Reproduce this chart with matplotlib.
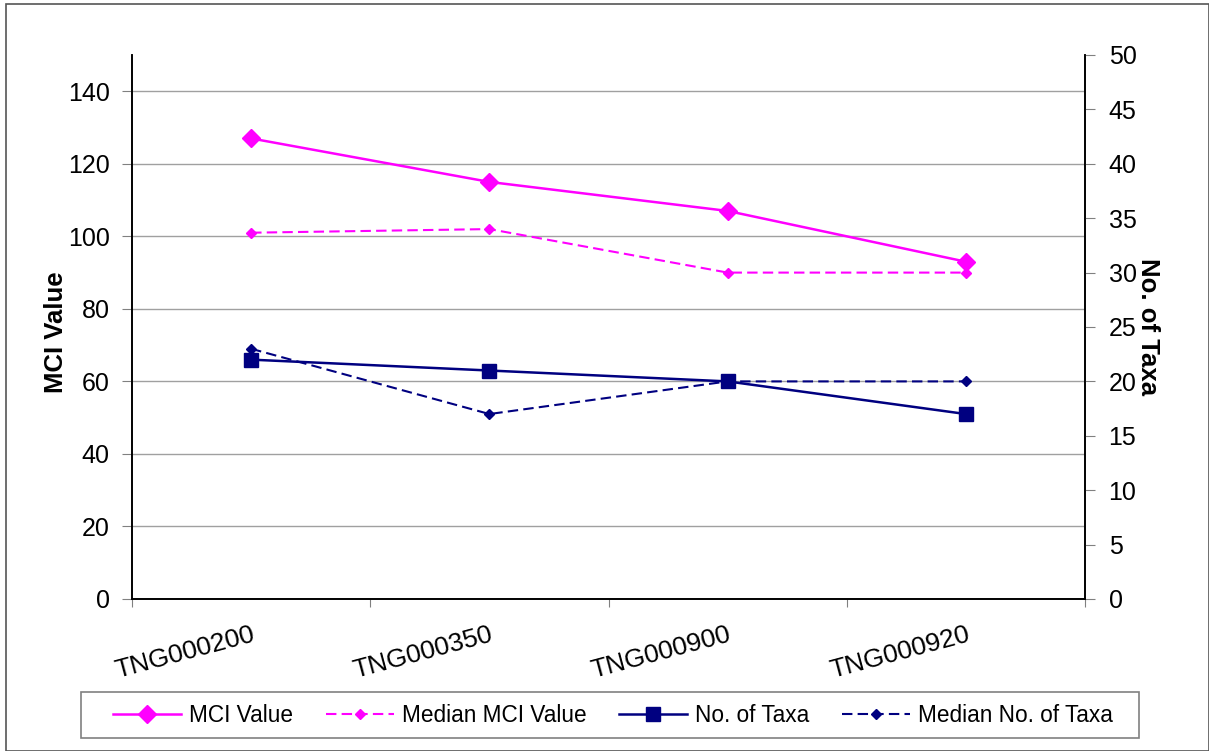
import matplotlib.pyplot as plt
from matplotlib.patches import Rectangle

plt.rcParams['font.family'] = ['Liberation Sans', 'DejaVu Sans']

sites = ["TNG000200", "TNG000350", "TNG000900", "TNG000920"]
mci_value = [127, 115, 107, 93]
median_mci = [101, 102, 90, 90]
no_taxa = [22, 21, 20, 17]
median_taxa = [23, 17, 20, 20]

W, H = 1209, 751
fig = plt.figure(figsize=(W / 100, H / 100), dpi=100)

# outer chart frame
fig.patches.append(Rectangle((6 / W, 0), (W - 6) / W, (H - 4) / H, transform=fig.transFigure,
                             fill=False, edgecolor="#555555", linewidth=1.2))
# legend box
fig.patches.append(Rectangle((81 / W, 1 - 738 / H), (1139 - 81) / W, 46 / H,
                             transform=fig.transFigure, fill=False,
                             edgecolor="#808080", linewidth=1.2))

ax = fig.add_axes([132 / W, (H - 599) / H, (1085 - 132) / W, (599 - 55) / H])
ax2 = ax.twinx()

x = [i + 0.5 for i in range(len(sites))]
magenta = "#ff00ff"
navy = "#000080"
dash = (0, (5, 2.5))

l1, = ax.plot(x, mci_value, color=magenta, lw=1.8, marker="D", ms=9, label="MCI Value")
l2, = ax.plot(x, median_mci, color=magenta, lw=1.5, ls=dash, marker="D", ms=5.5,
              label="Median MCI Value")
l3, = ax2.plot(x, no_taxa, color=navy, lw=1.8, marker="s", ms=10, label="No. of Taxa")
l4, = ax2.plot(x, median_taxa, color=navy, lw=1.5, ls=dash, marker="D", ms=5.5,
               label="Median No. of Taxa")

ax.set_xlim(0, len(sites))
ax.set_ylim(0, 150)
ax2.set_ylim(0, 50)
ax.set_yticks(range(0, 141, 20))
ax2.set_yticks(range(0, 51, 5))
ax.yaxis.grid(True, color="#a0a0a0", lw=1)
ax.set_axisbelow(True)

ax.set_xticks(range(len(sites) + 1))
ax.set_xticklabels([])
ax.set_xticks(x, minor=True)
ax.set_xticklabels(sites, minor=True, rotation=15, ha="right", va="top",
                   rotation_mode="anchor")
ax.tick_params(axis="x", which="minor", length=0, pad=17, labelsize=19)
ax.tick_params(axis="x", which="major", length=6, color="#808080", direction="out")
ax.tick_params(axis="y", length=7, color="#808080", labelsize=18, pad=9)
ax2.tick_params(axis="y", length=7, color="#808080", labelsize=18, pad=10)

for a in (ax, ax2):
    a.spines["top"].set_visible(False)
    for s in ("left", "right", "bottom"):
        a.spines[s].set_linewidth(1.2)

ax.set_ylabel("MCI Value", fontsize=18.5, fontweight="bold")
ax.yaxis.set_label_coords(-0.067, 0.49)
ax2.set_ylabel("No. of Taxa", fontsize=18.5, fontweight="bold", rotation=270, labelpad=17)

fig.legend(handles=[l1, l2, l3, l4], loc="center", ncol=4,
           bbox_to_anchor=(613 / W, 1 - 715 / H),
           fontsize=16.3, frameon=False, handlelength=3.0,
           handletextpad=0.35, columnspacing=1.45, borderpad=0.3, borderaxespad=0)

fig.savefig("out.png", dpi=100)
